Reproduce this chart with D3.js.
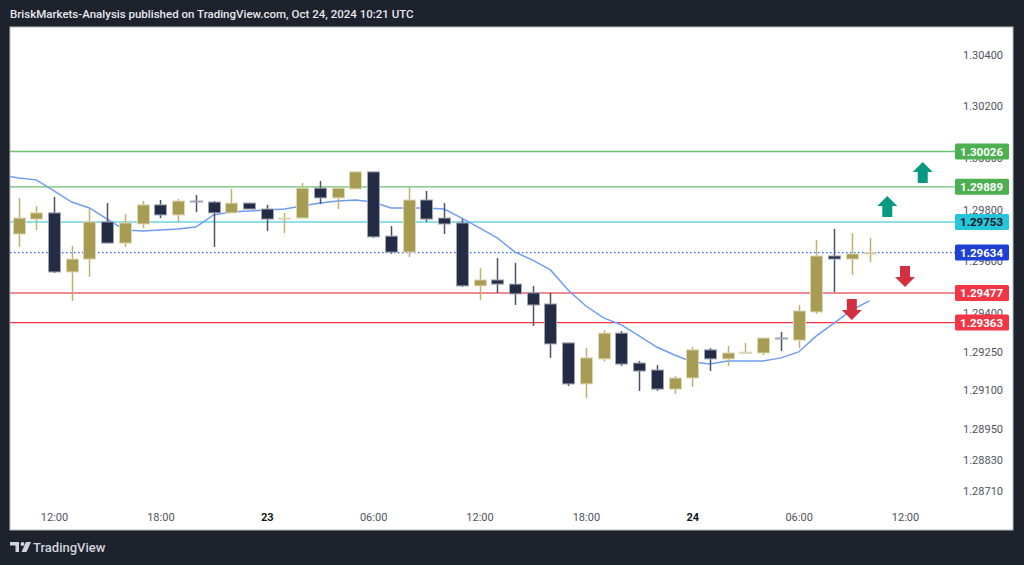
<!DOCTYPE html>
<html>
<head>
<meta charset="utf-8">
<script src="https://cdn.jsdelivr.net/npm/d3@7"></script>
<style>
  body { margin: 0; background: #1e222d; }
  svg { display: block; font-family: Roboto, "Noto Sans", sans-serif; }
</style>
</head>
<body>
<div id="chart"></div>
<script>
let width = 1024;
let height = 565;

// hourly candles, GBPUSD 1h, first one at 10:00 UTC Oct 22
let firstCandle = new Date(Date.UTC(2024, 9, 22, 10));
let opens  = [1.29706, 1.29764, 1.29788, 1.29559, 1.29609, 1.29753, 1.29671, 1.29745, 1.29819, 1.29780,
              1.29834, 1.29830, 1.29788, 1.29826, 1.29803, 1.29764, 1.29768, 1.29884, 1.29846, 1.29881,
              1.29947, 1.29698, 1.29636, 1.29838, 1.29768, 1.29749, 1.29505, 1.29528, 1.29512, 1.29478,
              1.29435, 1.29284, 1.29125, 1.29222, 1.29322, 1.29206, 1.29179, 1.29105, 1.29148, 1.29257,
              1.29222, 1.29245, 1.29245, 1.29303, 1.29295, 1.29404, 1.29621, 1.29609, 1.29629];
let highs  = [1.29846, 1.29815, 1.29850, 1.29660, 1.29803, 1.29826, 1.29784, 1.29834, 1.29838, 1.29842,
              1.29857, 1.29834, 1.29881, 1.29827, 1.29819, 1.29788, 1.29904, 1.29912, 1.29884, 1.29947,
              1.29947, 1.29737, 1.29888, 1.29873, 1.29826, 1.29764, 1.29574, 1.29613, 1.29594, 1.29505,
              1.29478, 1.29284, 1.29264, 1.29334, 1.29330, 1.29214, 1.29198, 1.29156, 1.29268, 1.29264,
              1.29272, 1.29284, 1.29303, 1.29326, 1.29431, 1.29683, 1.29726, 1.29710, 1.29691];
let lows   = [1.29656, 1.29722, 1.29555, 1.29447, 1.29540, 1.29671, 1.29656, 1.29730, 1.29768, 1.29753,
              1.29791, 1.29656, 1.29788, 1.29803, 1.29718, 1.29710, 1.29768, 1.29822, 1.29803, 1.29881,
              1.29691, 1.29629, 1.29617, 1.29753, 1.29706, 1.29501, 1.29450, 1.29478, 1.29431, 1.29350,
              1.29226, 1.29117, 1.29071, 1.29212, 1.29195, 1.29098, 1.29098, 1.29086, 1.29113, 1.29175,
              1.29195, 1.29241, 1.29237, 1.29253, 1.29264, 1.29396, 1.29481, 1.29547, 1.29598];
let closes = [1.29768, 1.29788, 1.29559, 1.29609, 1.29753, 1.29671, 1.29749, 1.29819, 1.29780, 1.29834,
              1.29832, 1.29788, 1.29826, 1.29803, 1.29764, 1.29768, 1.29884, 1.29846, 1.29884, 1.29947,
              1.29695, 1.29636, 1.29838, 1.29764, 1.29745, 1.29505, 1.29528, 1.29512, 1.29474, 1.29431,
              1.29280, 1.29125, 1.29226, 1.29322, 1.29202, 1.29175, 1.29105, 1.29148, 1.29257, 1.29222,
              1.29245, 1.29248, 1.29303, 1.29300, 1.29408, 1.29621, 1.29609, 1.29629, 1.29634];

// moving average, starts one hour before the first visible candle (09:00)
let maStart = new Date(Date.UTC(2024, 9, 22, 9));
let maValues = [1.29935, 1.29923, 1.29916, 1.29873, 1.29830, 1.29807, 1.29764, 1.29722, 1.29718, 1.29722,
                1.29726, 1.29733, 1.29780, 1.29791, 1.29795, 1.29799, 1.29803, 1.29815, 1.29826, 1.29834,
                1.29838, 1.29830, 1.29807, 1.29807, 1.29807, 1.29803, 1.29768, 1.29730, 1.29691, 1.29636,
                1.29605, 1.29567, 1.29489, 1.29427, 1.29381, 1.29354, 1.29311, 1.29268, 1.29237, 1.29210,
                1.29202, 1.29214, 1.29214, 1.29214, 1.29226, 1.29249, 1.29311, 1.29361, 1.29412, 1.29447];

// horizontal levels drawn on the chart
let levelPrices = [1.30026, 1.29889, 1.29753, 1.29634, 1.29477, 1.29363];
let levelKinds  = ["green", "green", "cyan", "last", "red1", "red2"];

// arrows: hour, price of the tip, direction
let arrowTimes  = [new Date(Date.UTC(2024, 9, 24, 13)), new Date(Date.UTC(2024, 9, 24, 11)),
                   new Date(Date.UTC(2024, 9, 24, 12)), new Date(Date.UTC(2024, 9, 24, 9))];
let arrowPrices = [1.29985, 1.29853, 1.29501, 1.29373];
let arrowDirs   = ["up", "up", "down", "down"];

let priceTicks = [1.304, 1.302, 1.300, 1.298, 1.296, 1.294, 1.2925, 1.291, 1.2895, 1.2883, 1.2871];
let timeTicks = d3.range(0, 9).map(i => new Date(Date.UTC(2024, 9, 22, 12 + i * 6)));

let levelStyle = {
    green: {line: "#6cbf70", width: 1.3, dash: "none", box: "#4caf50", text: "#ffffff"},
    cyan:  {line: "#8fdfea", width: 2, dash: "none", box: "#26c6da", text: "#131722"},
    last:  {line: "#2962ff", width: 1.3, dash: "1.5,2.5", box: "#1e40d6", text: "#ffffff"},
    red1:  {line: "#f08a92", width: 2, dash: "none", box: "#f23645", text: "#ffffff"},
    red2:  {line: "#f23645", width: 1.3, dash: "none", box: "#f23645", text: "#ffffff"}
};

let candles = opens.map((o, i) => ({
    t: d3.utcHour.offset(firstCandle, i),
    o: o, h: highs[i], l: lows[i], c: closes[i]
}));
let ma = maValues.map((v, i) => ({t: d3.utcHour.offset(maStart, i), v: v}));

let panel = {left: 10, top: 27, right: 1013, bottom: 530};
let plotRight = 955;

let x = d3.scaleUtc()
    .domain([new Date(Date.UTC(2024, 9, 22, 12)), new Date(Date.UTC(2024, 9, 24, 12))])
    .range([54, 905]);
let y = d3.scaleLinear()
    .domain([1.2871, 1.304])
    .range([491, 55]);

let svg = d3.select("#chart").append("svg")
    .attr("width", width)
    .attr("height", height);

svg.append("rect").attr("width", width).attr("height", height).attr("fill", "#1e222d");

svg.append("text")
    .attr("x", 10).attr("y", 18)
    .attr("fill", "#e6e8ee")
    .attr("font-size", 11.5)
    .attr("font-weight", 500)
    .text("BriskMarkets-Analysis published on TradingView.com, Oct 24, 2024 10:21 UTC");

svg.append("rect")
    .attr("x", panel.left).attr("y", panel.top)
    .attr("width", panel.right - panel.left).attr("height", panel.bottom - panel.top)
    .attr("fill", "#ffffff")
    .attr("stroke", "#b9bcc4")
    .attr("stroke-width", 1);

svg.append("clipPath").attr("id", "plot-clip")
    .append("rect")
    .attr("x", panel.left).attr("y", panel.top)
    .attr("width", plotRight - panel.left).attr("height", panel.bottom - panel.top);

let plot = svg.append("g").attr("clip-path", "url(#plot-clip)");

// levels
let levels = levelPrices.map((p, i) => ({p: p, s: levelStyle[levelKinds[i]]}));
plot.append("g")
    .selectAll("path")
    .data(levels)
    .join("path")
    .attr("d", d => `M${panel.left},${y(d.p)}H${plotRight}`)
    .attr("fill", "none")
    .style("stroke", d => d.s.line)
    .style("stroke-width", d => d.s.width)
    .style("stroke-dasharray", d => d.s.dash);

// moving average
let line = d3.line()
    .x(d => x(d.t))
    .y(d => y(d.v));
plot.append("path")
    .datum(ma)
    .attr("fill", "none")
    .attr("stroke", "#6f9cf6")
    .attr("stroke-width", 1.5)
    .attr("d", line);

// candles
let bodyW = 12;
let candle = plot.append("g")
    .selectAll("g")
    .data(candles)
    .join("g")
    .attr("transform", d => `translate(${Math.round(x(d.t)) + 0.5},0)`);

candle.append("line")
    .attr("y1", d => y(d.h))
    .attr("y2", d => y(d.l))
    .attr("stroke", d => d.c >= d.o ? "#bdb16e" : "#4a5268")
    .attr("stroke-width", 1.5);

candle.append("rect")
    .attr("x", -bodyW / 2)
    .attr("y", d => y(Math.max(d.o, d.c)))
    .attr("width", bodyW)
    .attr("height", d => Math.max(1, y(Math.min(d.o, d.c)) - y(Math.max(d.o, d.c))))
    .attr("fill", d => d.c >= d.o ? "#a89c54" : "#232c44")
    .attr("stroke", d => d.c >= d.o ? "#ddd8b4" : "#a0a5b2")
    .attr("stroke-width", 1);

// arrows
let arrows = arrowTimes.map((t, i) => ({t: t, p: arrowPrices[i], dir: arrowDirs[i]}));
plot.append("g")
    .selectAll("path")
    .data(arrows)
    .join("path")
    .attr("transform", d => `translate(${x(d.t)},${y(d.p)})${d.dir === "down" ? " scale(1,-1)" : ""}`)
    .attr("d", "M0,0L10,10L5,10L5,21L-5,21L-5,10L-10,10Z")
    .attr("fill", d => d.dir === "up" ? "#089981" : "#d0303f");

// price axis labels
svg.append("g")
    .attr("font-size", 11)
    .attr("fill", "#50535e")
    .attr("text-anchor", "end")
    .selectAll("text")
    .data(priceTicks)
    .join("text")
    .attr("x", 1003)
    .attr("y", d => y(d))
    .attr("dy", "0.35em")
    .text(d => d3.format(".5f")(d));

let label = svg.append("g")
    .selectAll("g")
    .data(levels)
    .join("g")
    .attr("transform", d => `translate(955,${y(d.p)})`);
label.append("rect")
    .attr("x", 0).attr("y", -8)
    .attr("width", 54).attr("height", 16)
    .attr("rx", 1.5)
    .attr("fill", d => d.s.box);
label.append("text")
    .attr("x", 48).attr("dy", "0.36em")
    .attr("text-anchor", "end")
    .attr("font-size", 11.5)
    .attr("font-weight", 700)
    .attr("fill", d => d.s.text)
    .text(d => d3.format(".5f")(d.p));

// time axis
let xAxis = d3.axisBottom(x)
    .tickValues(timeTicks)
    .tickSize(0)
    .tickPadding(0)
    .tickFormat(d => d.getUTCHours() === 0 ? d3.utcFormat("%-d")(d) : d3.utcFormat("%H:%M")(d));

let axisG = svg.append("g")
    .attr("transform", "translate(0,513)")
    .call(xAxis);
axisG.select(".domain").remove();
axisG.selectAll("text")
    .attr("font-size", 11)
    .attr("font-family", "Roboto, 'Noto Sans', sans-serif")
    .attr("fill", d => d.getUTCHours() === 0 ? "#131722" : "#50535e")
    .attr("font-weight", d => d.getUTCHours() === 0 ? 700 : 400);

// TradingView logo
let logo = svg.append("g").attr("transform", "translate(10,542)").attr("fill", "#d1d4dc");
logo.append("path").attr("d", "M0,0H9V10H5.5V3.5H0Z");
logo.append("circle").attr("cx", 12.5).attr("cy", 2).attr("r", 2);
logo.append("path").attr("d", "M16,0H21L16.5,10H11.5Z");
logo.append("text")
    .attr("x", 23).attr("y", 10)
    .attr("font-size", 13)
    .attr("font-weight", 500)
    .text("TradingView");
</script>
</body>
</html>
